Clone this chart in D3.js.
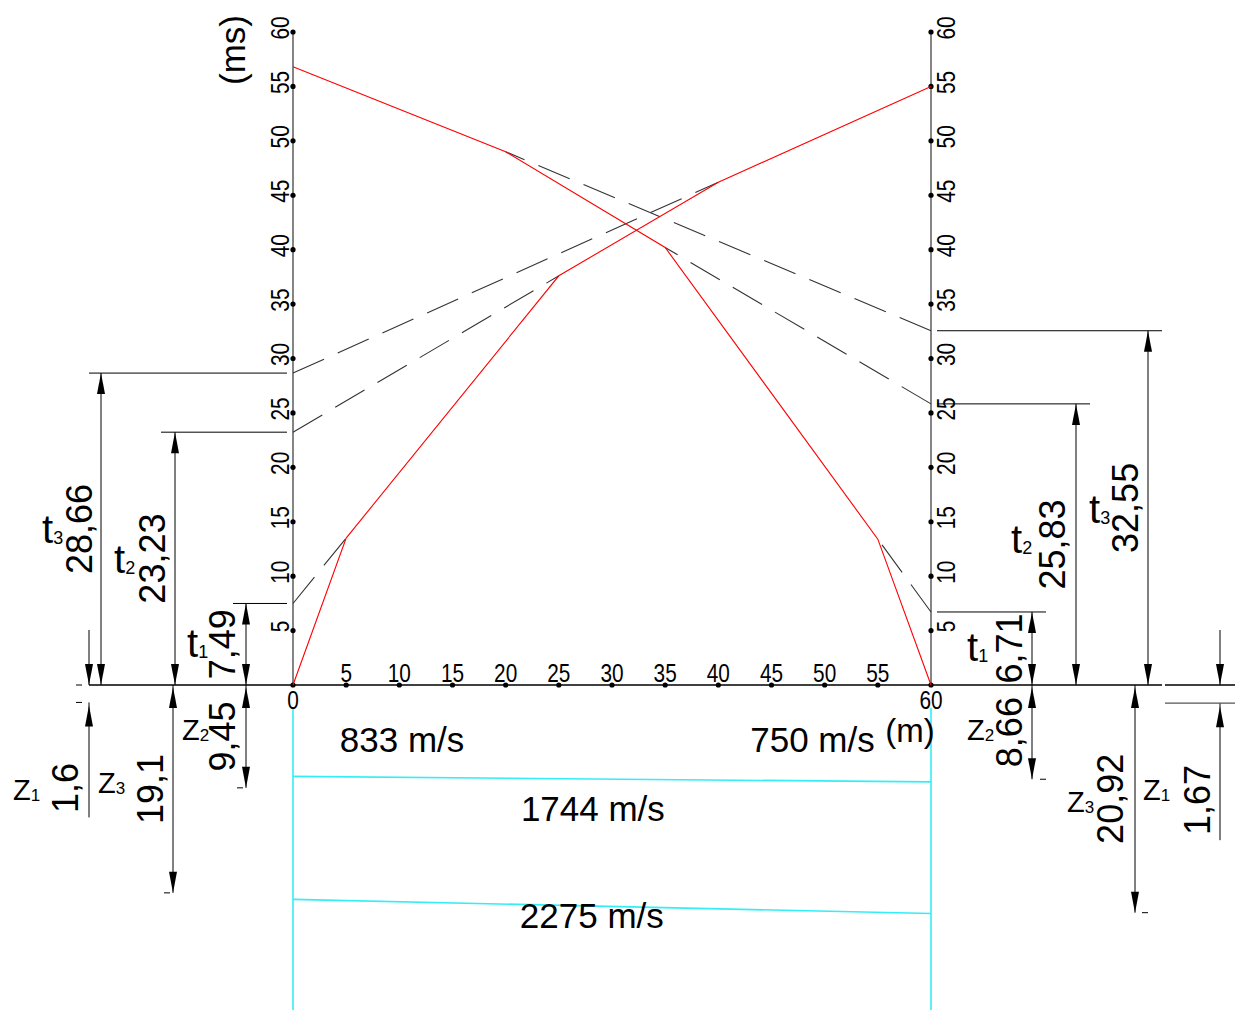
<!DOCTYPE html>
<html><head><meta charset="utf-8">
<script src="https://cdn.jsdelivr.net/npm/d3@7"></script>
<style>
body{margin:0;background:#fff}
text{font-family:"Liberation Sans",Arial,sans-serif;fill:#000}
</style>
</head><body>
<svg id="c" width="1235" height="1010"></svg>
<script>
// ---------------- data ----------------
const distanceTicks = [0,5,10,15,20,25,30,35,40,45,50,55,60];
const timeTicks = [5,10,15,20,25,30,35,40,45,50,55,60];
const forwardX = [0,5,25,40,60];
const forwardT = [0,13.5,37.6,46.2,55.0];
const reverseX = [0,20,35,55,60];
const reverseT = [56.8,49.0,40.2,13.4,0];
const leftIntercepts = [7.49,23.23,28.66];   // t1,t2,t3 (forward)
const forwardBreakX = [5,25,40];
const rightIntercepts = [6.71,25.83,32.55];  // t1,t2,t3 (reverse)
const reverseBreakX = [55,35,20];
const leftDepths = [1.6,9.45,19.1];          // z1,z2,z3
const rightDepths = [1.67,8.66,20.92];
const boundary1 = [8.4,8.9];                 // depth at x=0, x=60
const boundary2 = [19.7,21.0];
const velocityLabels = ["833 m/s","750 m/s","1744 m/s","2275 m/s"];
const timeNames = ["1","2","3"];
const depthNames = ["1","2","3"];

// ---------------- layout ----------------
const svg = d3.select("#c");
const x = d3.scaleLinear().domain([0,60]).range([293,931]);
const t = d3.scaleLinear().domain([0,60]).range([685,32]);
const z = d3.scaleLinear().domain([0,60]).range([685,685+653]);
const fmt = v => String(v).replace(".",",");

// velocity label anchors (in data units: distance, depth)
const velPos = [[4.4,6.2,"start"],[43,6.2,"start"],[28.2,12.5,"middle"],[28.1,22.3,"middle"]];

// dimension layouts (pixels)
const leftTimeLay = [
  {lineX:246, extX:233, numX:235, labX:187, labDy:13},
  {lineX:175, extX:161, numX:165, labX:114, labDy:14},
  {lineX:101, extX:89,  numX:92,  labX:42,  labDy:14}];
const rightTimeLay = [
  {lineX:1032, extX:1046, numX:1022, labX:967,  labDy:13},
  {lineX:1076, extX:1090, numX:1065, labX:1011, labDy:9},
  {lineX:1148, extX:1162, numX:1138, labX:1089, labDy:15}];
const leftDepthLay = [
  {lineX:89,  numX:78,  numY:788, labX:13,  labY:800, dashX:-13},
  {lineX:246, numX:235, labX:182, labDy:4, dashX:-9},
  {lineX:173, numX:163, labX:98,  labDy:4, dashX:-9}];
const rightDepthLay = [
  {lineX:1220, numX:1210, numY:800, labX:1143, labY:800},
  {lineX:1032, numX:1022, labX:967,  labDy:8, dashX:8},
  {lineX:1135, numX:1123, labX:1067, labDy:13, dashX:7}];

function arrow(g, px, py, dir){ // dir -1 = pointing up, +1 = pointing down
  const L=21, W=4;
  g.append("path").attr("d",`M${px},${py} L${px-W},${py-dir*L} L${px+W},${py-dir*L} Z`).attr("fill","#000");
}
function vline(g,x0,y0,y1,stroke="#000",w=1){
  g.append("line").attr("x1",x0).attr("x2",x0).attr("y1",y0).attr("y2",y1).attr("stroke",stroke).attr("stroke-width",w);
}
function hline(g,x0,x1,y0,stroke="#000",w=1){
  g.append("line").attr("x1",x0).attr("x2",x1).attr("y1",y0).attr("y2",y0).attr("stroke",stroke).attr("stroke-width",w);
}
function rotNum(g, bx, cy, str){
  g.append("text").attr("transform",`translate(${bx},${cy}) rotate(-90)`).attr("text-anchor","middle")
   .style("font-size","36px").text(str);
}
function subLabel(g, lx, by, main, sub, size, subSize){
  const tx = g.append("text").attr("x",lx).attr("y",by).style("font-size",size+"px");
  tx.append("tspan").text(main);
  tx.append("tspan").style("font-size",subSize+"px").attr("dy",1).text(sub);
}

const g = svg.append("g");

// ---------------- cyan layer model ----------------
const cy = g.append("g").attr("stroke","#33eef6").attr("stroke-width",1.6).attr("fill","none");
[0,60].forEach(d=>vline(cy,x(d),z(2.1),z(30),"#33eef6",1.6));
[boundary1,boundary2].forEach(b=>{
  cy.append("line").attr("x1",x(0)).attr("x2",x(60)).attr("y1",z(b[0])).attr("y2",z(b[1]));
});

// ---------------- axes ----------------
vline(g,x(0),t(0),t(60),"#666",1.6);
vline(g,x(60),t(0),t(60),"#666",1.6);
hline(g,89,1162,t(0),"#000",1.5);
hline(g,1165,1235,t(0),"#000",1.5);

const tickFont = 26, sx = 0.8;
timeTicks.forEach(v=>{
  g.append("circle").attr("cx",x(0)).attr("cy",t(v)).attr("r",2.6).attr("fill","#000");
  g.append("circle").attr("cx",x(60)).attr("cy",t(v)).attr("r",2.6).attr("fill","#000");
  g.append("text").attr("transform",`translate(289,${t(v)-4}) rotate(-90) scale(${sx},1)`)
    .attr("text-anchor","middle").style("font-size",tickFont+"px").text(v);
  g.append("text").attr("transform",`translate(955,${t(v)-4}) rotate(-90) scale(${sx},1)`)
    .attr("text-anchor","middle").style("font-size",tickFont+"px").text(v);
});
distanceTicks.forEach(v=>{
  g.append("circle").attr("cx",x(v)).attr("cy",t(0)).attr("r",2.6).attr("fill","#000");
  const below = (v===0||v===60);
  g.append("text").attr("transform",`translate(${x(v)},${below?709:682}) scale(${sx},1)`)
    .attr("text-anchor","middle").style("font-size",tickFont+"px").text(v);
});
g.append("text").attr("transform","translate(245,50) rotate(-90)").attr("text-anchor","middle")
  .style("font-size","35px").text("(ms)");
g.append("text").attr("x",910).attr("y",742).attr("text-anchor","middle").style("font-size","33px").text("(m)");

// ---------------- dashed extrapolations ----------------
const dash = g.append("g").attr("stroke","#333").attr("stroke-width",1.1).attr("stroke-dasharray","34,15").attr("fill","none");
leftIntercepts.forEach((ti,i)=>{
  const bx = forwardBreakX[i], bt = forwardT[forwardX.indexOf(bx)];
  dash.append("line").attr("x1",x(0)).attr("y1",t(ti)).attr("x2",x(bx)).attr("y2",t(bt));
});
rightIntercepts.forEach((ti,i)=>{
  const bx = reverseBreakX[i], bt = reverseT[reverseX.indexOf(bx)];
  dash.append("line").attr("x1",x(60)).attr("y1",t(ti)).attr("x2",x(bx)).attr("y2",t(bt));
});

// ---------------- travel-time curves ----------------
const line = d3.line().x(d=>x(d[0])).y(d=>t(d[1]));
g.append("path").attr("d",line(forwardX.map((d,i)=>[d,forwardT[i]]))).attr("stroke","#ff0000").attr("stroke-width",1.1).attr("fill","none");
g.append("path").attr("d",line(reverseX.map((d,i)=>[d,reverseT[i]]))).attr("stroke","#ff0000").attr("stroke-width",1.1).attr("fill","none");

// ---------------- time dimensions ----------------
leftIntercepts.forEach((ti,i)=>{
  const L = leftTimeLay[i], yTop=t(ti), yB=t(0), mid=(yTop+yB)/2;
  hline(g,L.extX,x(0)-6,yTop);
  vline(g,L.lineX,yTop,yB);
  arrow(g,L.lineX,yTop,-1); arrow(g,L.lineX,yB,1);
  rotNum(g,L.numX,mid,fmt(ti));
  subLabel(g,L.labX,mid+L.labDy,"t",timeNames[i],40,18);
});
rightIntercepts.forEach((ti,i)=>{
  const L = rightTimeLay[i], yTop=t(ti), yB=t(0), mid=(yTop+yB)/2;
  hline(g,x(60)+6,L.extX,yTop);
  vline(g,L.lineX,yTop,yB);
  arrow(g,L.lineX,yTop,-1); arrow(g,L.lineX,yB,1);
  rotNum(g,L.numX,mid,fmt(ti));
  subLabel(g,L.labX,mid+L.labDy,"t",timeNames[i],40,18);
});

// ---------------- depth dimensions ----------------
function depthDim(depths, lays, side){
  depths.forEach((dv,i)=>{
    const L = lays[i], y0=z(0), y1=z(dv);
    if(i===0){
      vline(g,L.lineX,y0-55,y0); arrow(g,L.lineX,y0,1);
      vline(g,L.lineX,y1,y1+(side==="left"?115:137)); arrow(g,L.lineX,y1+3,-1);
      if(side==="left"){ hline(g,L.lineX+L.dashX,L.lineX+L.dashX+6,y0); hline(g,L.lineX+L.dashX,L.lineX+L.dashX+6,y1); }
      else { hline(g,1165,1235,y1,"#555",1.2); }
      rotNum(g,L.numX,L.numY,fmt(dv));
      subLabel(g,L.labX,L.labY,"Z",depthNames[i],29,17);
    } else {
      vline(g,L.lineX,y0,y1);
      arrow(g,L.lineX,y0+2,-1); arrow(g,L.lineX,y1,1);
      hline(g,L.lineX+L.dashX,L.lineX+L.dashX+6,y1);
      const mid=(y0+y1)/2;
      rotNum(g,L.numX,mid,fmt(dv));
      subLabel(g,L.labX,mid+L.labDy,"Z",depthNames[i],29,17);
    }
  });
}
depthDim(leftDepths,leftDepthLay,"left");
depthDim(rightDepths,rightDepthLay,"right");

// ---------------- velocity labels ----------------
velocityLabels.forEach((s,i)=>{
  const p = velPos[i];
  g.append("text").attr("x",x(p[0])).attr("y",z(p[1])).attr("text-anchor",p[2]).style("font-size","35px").text(s);
});
</script>
</body></html>
